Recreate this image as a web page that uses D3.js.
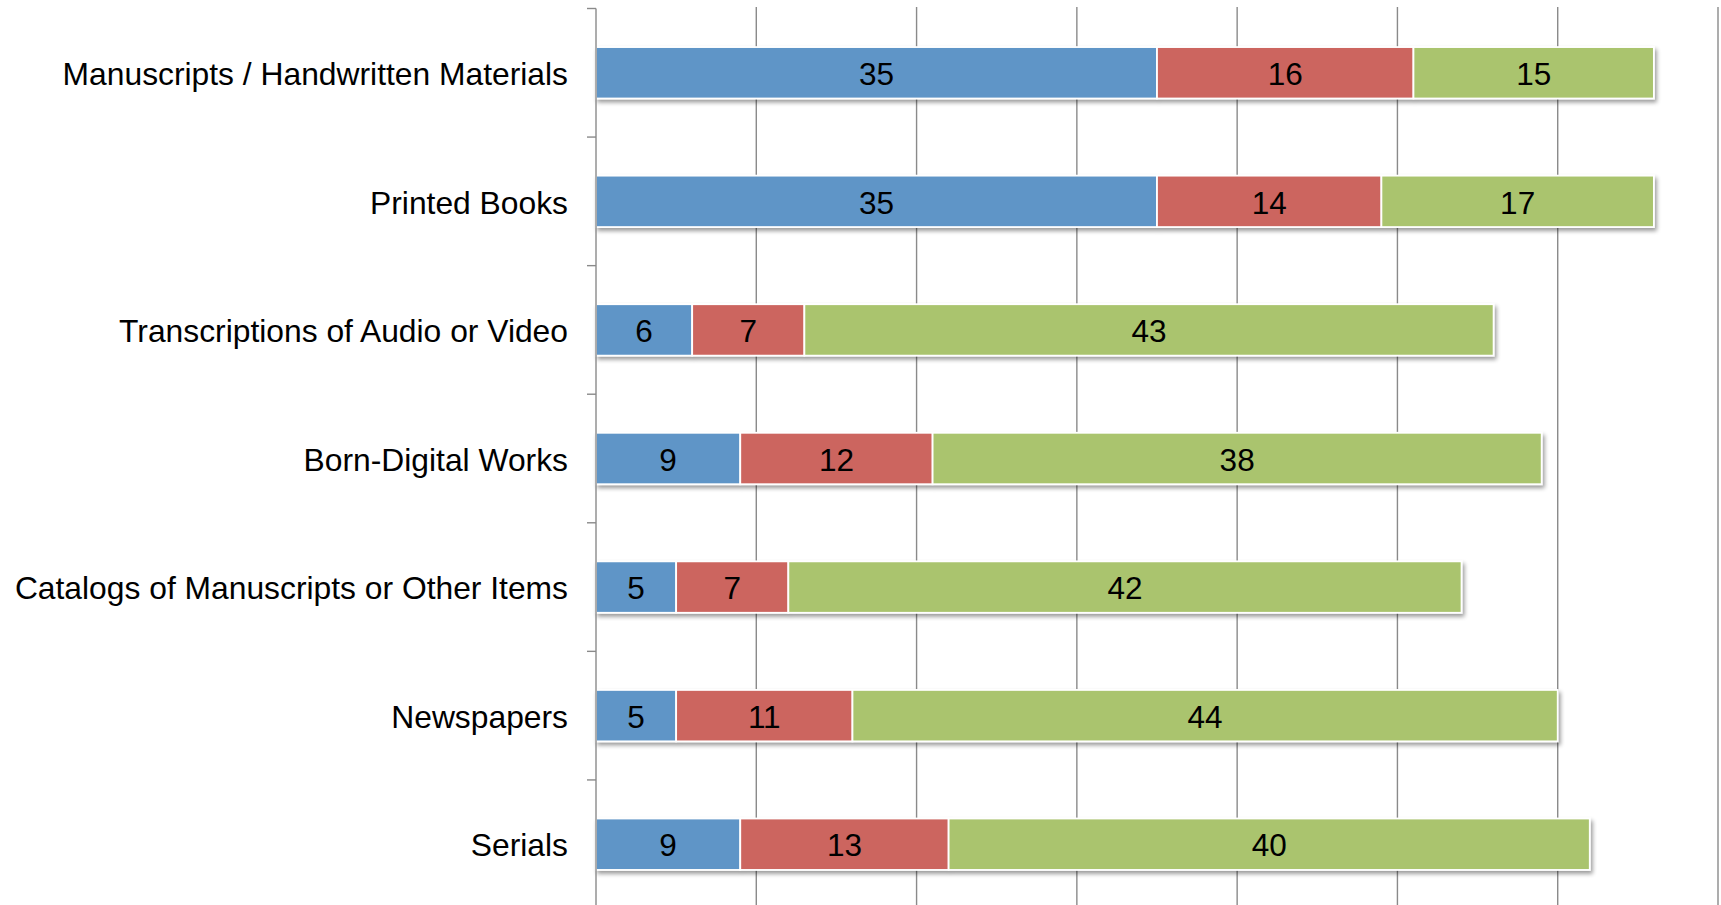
<!DOCTYPE html>
<html>
<head>
<meta charset="utf-8">
<script src="https://cdn.jsdelivr.net/npm/d3@7/dist/d3.min.js"></script>
<style>
  html, body { margin: 0; padding: 0; background: #ffffff; overflow: hidden; }
  svg { display: block; }
  text { font-family: "Liberation Sans", Arial, sans-serif; fill: #000; }
</style>
</head>
<body>
<svg id="chart" width="1721" height="905"></svg>
<script>
const categories = [
  "Manuscripts / Handwritten Materials",
  "Printed Books",
  "Transcriptions of Audio or Video",
  "Born-Digital Works",
  "Catalogs of Manuscripts or Other Items",
  "Newspapers",
  "Serials"
];
const seriesNames = ["Series A", "Series B", "Series C"];
const seriesA = [35, 35, 6, 9, 5, 5, 9];
const seriesB = [16, 14, 7, 12, 7, 11, 13];
const seriesC = [15, 17, 43, 38, 42, 44, 40];
const xTicks = [0, 10, 20, 30, 40, 50, 60, 70];
const colors = ["#5f95c7", "#cc655f", "#aac46e"];

(function () {
const svg = d3.select("#chart");
const W = 1721, H = 905;
const pLeft = 596, pRight = 1718, pTop = 8.5, pBottom = 908.5;

const x = d3.scaleLinear().domain([0, 70]).range([pLeft, pRight]);
const y = d3.scaleBand().domain(categories).range([pTop, pBottom]).paddingInner(0.6).paddingOuter(0.3);

// shadow filter
const defs = svg.append("defs");
const f = defs.append("filter").attr("id", "shadow").attr("x", "-5%").attr("y", "-30%").attr("width", "110%").attr("height", "170%");
f.append("feGaussianBlur").attr("in", "SourceAlpha").attr("stdDeviation", 2.2).attr("result", "blur");
f.append("feOffset").attr("in", "blur").attr("dx", 2).attr("dy", 3).attr("result", "off");
f.append("feComponentTransfer").attr("in", "off").attr("result", "offa")
  .append("feFuncA").attr("type", "linear").attr("slope", 0.4);
const m = f.append("feMerge");
m.append("feMergeNode").attr("in", "offa");
m.append("feMergeNode").attr("in", "SourceGraphic");

// gridlines
svg.append("g").selectAll("line")
  .data(xTicks.filter(d => d > 0))
  .join("line")
  .attr("x1", d => x(d)).attr("x2", d => x(d))
  .attr("y1", pTop - 1.5).attr("y2", H + 5)
  .attr("stroke", "#8a8a8a").attr("stroke-width", 1.4);

// stacked data
const rows = categories.map((c, i) => ({ cat: c, a: seriesA[i], b: seriesB[i], c: seriesC[i] }));
const stack = d3.stack().keys(["a", "b", "c"])(rows);
const barH = y.bandwidth();

const rowG = svg.append("g").selectAll("g.row")
  .data(rows)
  .join("g").attr("class", "row")
  .attr("filter", "url(#shadow)");

rowG.each(function (d, i) {
  const g = d3.select(this);
  stack.forEach((s, k) => {
    const seg = s[i];
    g.append("rect")
      .attr("x", x(seg[0]))
      .attr("y", y(d.cat))
      .attr("width", x(seg[1]) - x(seg[0]))
      .attr("height", barH)
      .attr("fill", colors[k])
      .attr("stroke", "#ffffff")
      .attr("stroke-width", 1.8);
  });
});

// value labels
stack.forEach((s) => {
  svg.append("g").selectAll("text")
    .data(s)
    .join("text")
    .attr("x", seg => (x(seg[0]) + x(seg[1])) / 2)
    .attr("y", seg => y(seg.data.cat) + barH / 2)
    .attr("text-anchor", "middle")
    .attr("dominant-baseline", "central")
    .attr("dy", "0.04em")
    .style("font-size", "31.5px")
    .text(seg => seg[1] - seg[0]);
});

// y axis
const ax = svg.append("g");
ax.append("line")
  .attr("x1", pLeft).attr("x2", pLeft)
  .attr("y1", pTop).attr("y2", H + 5)
  .attr("stroke", "#8a8a8a").attr("stroke-width", 1.4);
const step = y.step();
const boundaries = categories.map(c => y(c) - step * 0.3);
boundaries.push(pBottom);
ax.selectAll("line.tick")
  .data(boundaries)
  .join("line").attr("class", "tick")
  .attr("x1", pLeft - 9).attr("x2", pLeft)
  .attr("y1", d => d).attr("y2", d => d)
  .attr("stroke", "#8a8a8a").attr("stroke-width", 1.4);

// category labels
svg.append("g").selectAll("text")
  .data(categories)
  .join("text")
  .attr("x", pLeft - 28)
  .attr("y", d => y(d) + barH / 2)
  .attr("text-anchor", "end")
  .attr("dominant-baseline", "central")
  .attr("dy", "0.04em")
  .style("font-size", "31.8px")
  .text(d => d);
})();
</script>
</body>
</html>
